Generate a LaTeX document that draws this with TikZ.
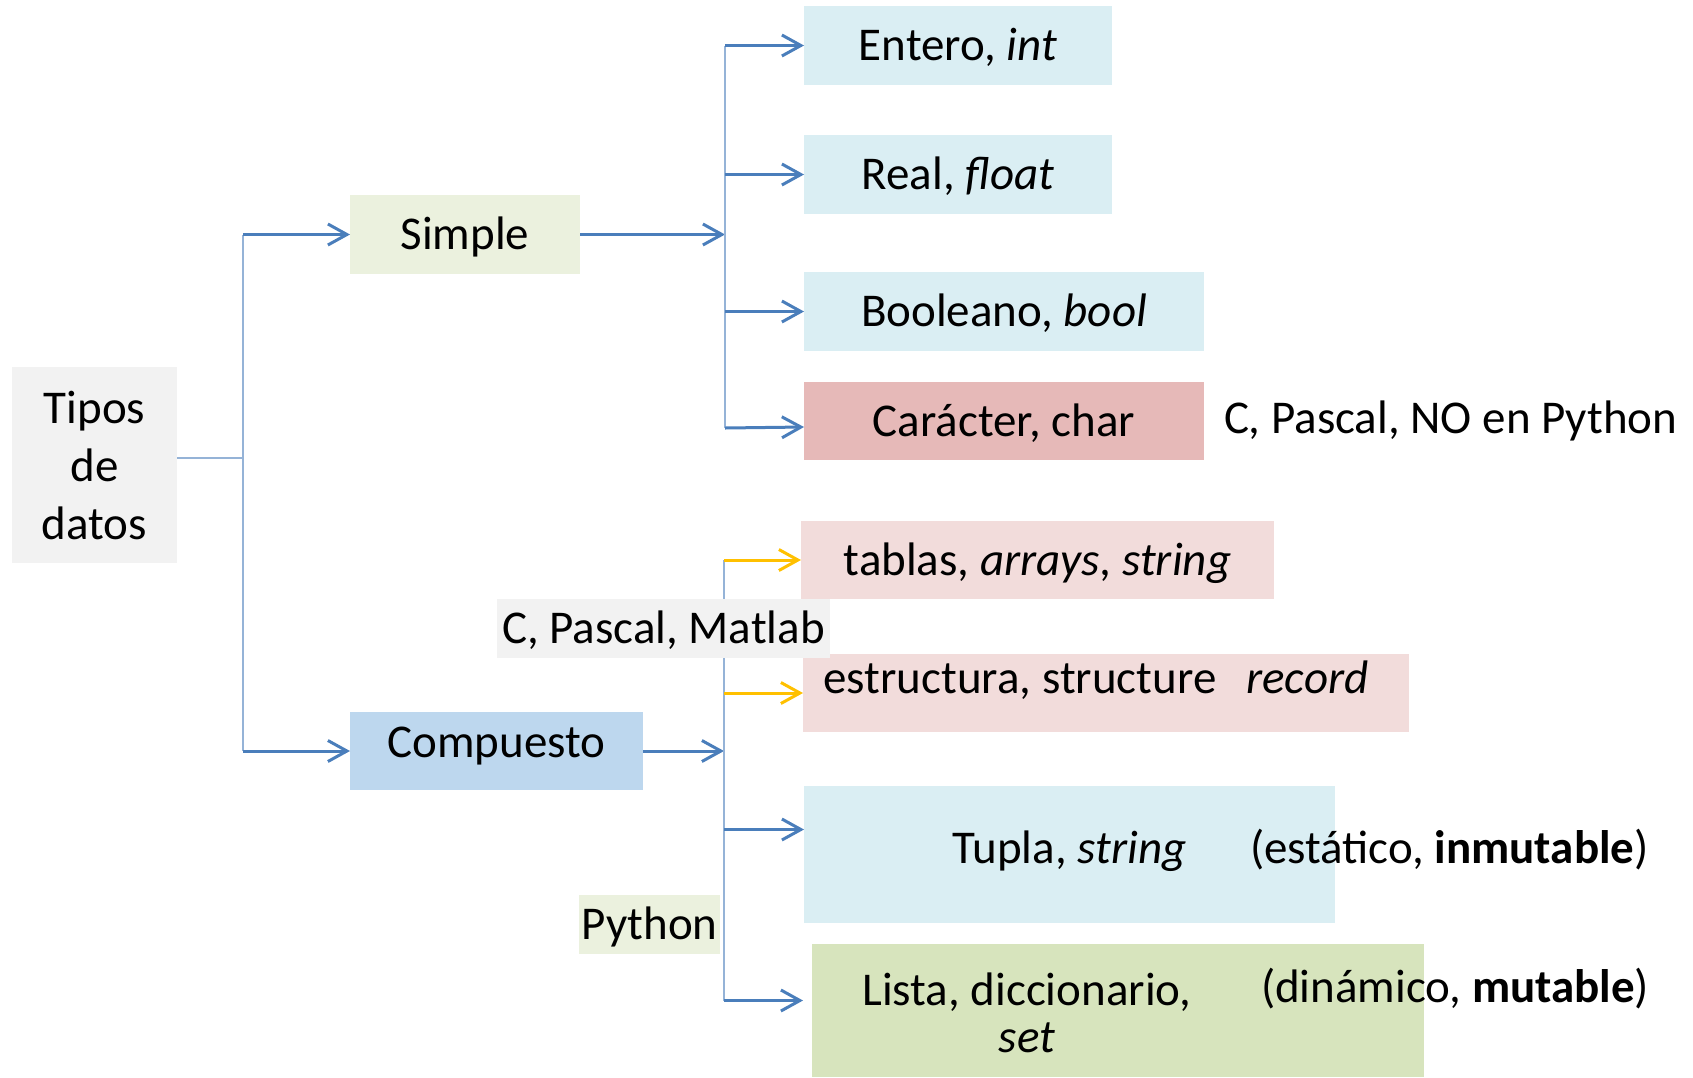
\documentclass[tikz,border=0pt]{standalone}
\usepackage{fontspec}
\setmainfont{Carlito}
\usetikzlibrary{arrows.meta,calc}
\definecolor{arrblue}{RGB}{74,126,187}
\definecolor{trunkblue}{RGB}{149,179,215}
\definecolor{arryel}{RGB}{255,192,0}
\definecolor{cgray}{RGB}{242,242,242}
\definecolor{cgreen}{RGB}{235,241,222}
\definecolor{cblue}{RGB}{189,215,238}
\definecolor{ccyan}{RGB}{218,238,243}
\definecolor{cred}{RGB}{230,185,184}
\definecolor{cpink}{RGB}{242,220,219}
\definecolor{colive}{RGB}{215,228,189}
\tikzset{
  txt/.style={font=\fontsize{47}{58}\selectfont, inner sep=0pt, outer sep=0pt},
  plainbox/.style={txt, fill=#1, anchor=north west},
  box/.style={plainbox=#1, text height=30pt, text depth=0pt},
  arr/.style={draw=arrblue, line width=3pt, -{Straight Barb[length=19pt,width=21pt]}},
  yarr/.style={arr, draw=arryel},
  trunk/.style={draw=trunkblue, line width=2pt},
}
\begin{document}
\begin{tikzpicture}[x=1pt,y=-1pt]
\useasboundingbox (0,0) rectangle (1693,1077);
% boxes
\node[plainbox=cgray, minimum width=165pt, minimum height=196pt, align=center] (tipos) at (12,367) {Tipos\\de\\datos};
\node[box=cgreen, minimum width=230pt, minimum height=79pt] (simple) at (350,195) {Simple};
\node[box=cblue, minimum width=293pt, minimum height=78pt, text depth=18pt] (compuesto) at (350,712) {Compuesto};
\node[box=ccyan, minimum width=308pt, minimum height=79pt] (entero) at (804,6) {Entero, \textit{int}};
\node[box=ccyan, minimum width=308pt, minimum height=79pt] (real) at (804,135) {Real, \textit{float}};
\node[box=ccyan, minimum width=400pt, minimum height=79pt] (booleano) at (804,272) {Booleano, \textit{bool}};
\node[box=cred, minimum width=400pt, minimum height=78pt] (caracter) at (804,382) {Carácter, char};
\node[box=cpink, minimum width=473pt, minimum height=78pt] (tablas) at (801,521) {tablas, \textit{arrays, string}};
\node[box=cpink, minimum width=606pt, minimum height=78pt, text depth=30pt] (estructura) at (803,654) {estructura, structure\hspace{30pt}\textit{record}\kern20pt};
\node[box=ccyan, minimum width=531pt, minimum height=137pt, text depth=13pt] (tupla) at (804,786) {Tupla, \textit{string}};
\node[plainbox=colive, minimum width=612pt, minimum height=133pt] (lista) at (812,944) {};
\node[box=cgreen, minimum width=141pt, minimum height=59pt] (python) at (579,895) {Python};
% texts
\node[txt, anchor=base west] (cpno) at (1224,433) {C, Pascal, NO en Python};
\node[txt, anchor=base west] (estat) at (1250,863) {(estático, \textbf{inmutable})};
\node[txt, anchor=base west] (dinam) at (1261,1002) {(dinámico, \textbf{mutable})};
\node[txt, font=\fontsize{47}{47}\selectfont, align=center, anchor=base] (listatxt) at (1027,1052) {Lista, diccionario,\\\textit{set}};
% junctions
\coordinate (j1) at (243,458);
\coordinate (j2) at (725,233);
\coordinate (j3) at (724,751);
% level 1
\draw[trunk] (tipos.east |- j1) -- (j1);
\draw[trunk] (j1 |- simple.west) -- (j1 |- compuesto.west);
\draw[arr] (j1 |- simple.west) -- (simple.west);
\draw[arr] (j1 |- compuesto.west) -- (compuesto.west);
% simple
\draw[arr] (simple.east) -- (simple.east -| j2);
\draw[trunk] (j2 |- entero.west) -- ($(caracter.west -| j2)+(0,7)$);
\draw[arr] (j2 |- entero.west) -- (entero.west);
\draw[arr] (j2 |- real.west) -- (real.west);
\draw[arr] (j2 |- booleano.west) -- (booleano.west);
\draw[arr] ($(caracter.west -| j2)+(0,7)$) -- ($(caracter.west)+(0,6)$);
% compuesto
\draw[arr] (compuesto.east) -- (j3);
\draw[trunk] (j3 |- tablas.west) -- ($(lista.west -| j3)+(0,-10)$);
\draw[yarr] (j3 |- tablas.west) -- (tablas.west);
\draw[yarr] (j3 |- estructura.west) -- (estructura.west);
\draw[arr] ($(tupla.west -| j3)+(0,-25)$) -- ($(tupla.west)+(0,-25)$);
\draw[arr] ($(lista.west -| j3)+(0,-10)$) -- ($(lista.west)+(-9,-10)$);
% label over trunk
\node[box=cgray, minimum width=333pt, minimum height=59pt] (cpm) at (497,599) {C, Pascal, Matlab};
\end{tikzpicture}
\end{document}
